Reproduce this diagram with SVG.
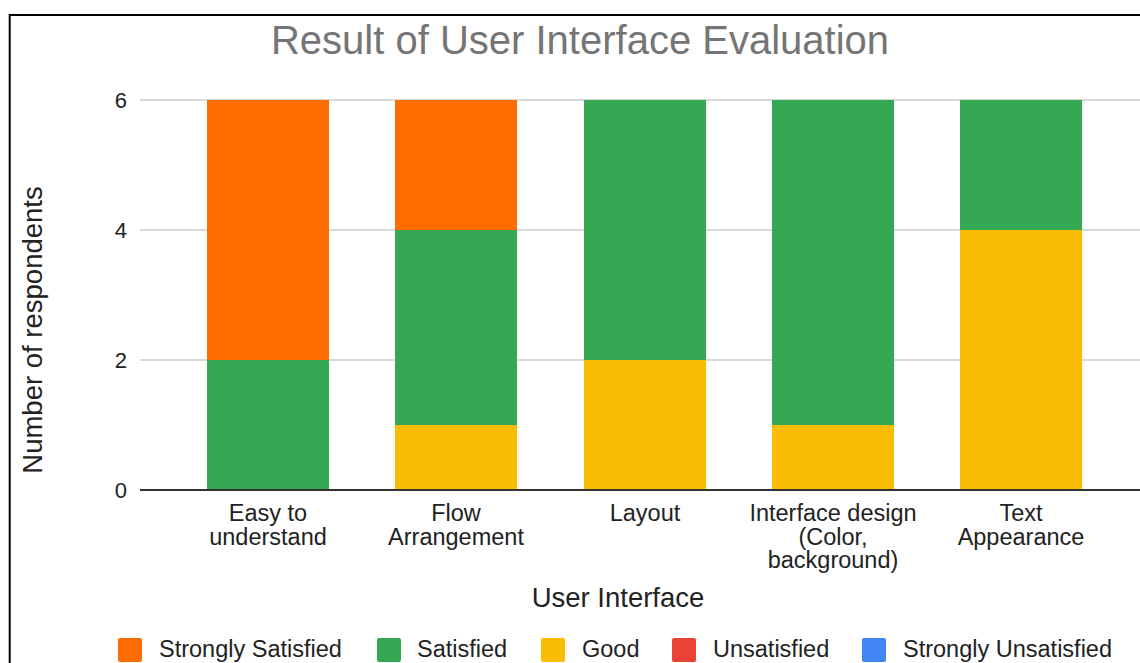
<svg xmlns="http://www.w3.org/2000/svg" width="1140" height="663" viewBox="0 0 1140 663">
<style>
text{font-family:"Liberation Sans",Arial,sans-serif;fill:#222}
.title{font-size:40px;fill:#757575;text-anchor:middle}
.tick{font-size:22px;text-anchor:end}
.xl{font-size:23.5px;text-anchor:middle}
.axt{font-size:27.5px;text-anchor:middle}
.lg{font-size:23.5px}
.grid{stroke:#cccccc;stroke-width:1.5}
.so{fill:#ff6d01}.sa{fill:#34a853}.go{fill:#fbbc04}.un{fill:#ea4335}.su{fill:#4285f4}
</style>
<rect width="1140" height="663" fill="#fff"/>
<path d="M9.7,663 V15 H1140" fill="none" stroke="#000" stroke-width="2"/>
<text class="title" x="580" y="54">Result of User Interface Evaluation</text>
<g id="grid">
<line class="grid" x1="140" y1="100" x2="1140" y2="100"/>
<line class="grid" x1="140" y1="230" x2="1140" y2="230"/>
<line class="grid" x1="140" y1="360" x2="1140" y2="360"/>
</g>
<g id="yticks">
<text class="tick" x="127" y="107.5">6</text>
<text class="tick" x="127" y="237.5">4</text>
<text class="tick" x="127" y="367.5">2</text>
<text class="tick" x="127" y="497.5">0</text>
</g>
<g id="bar-easy">
<rect class="sa" x="207" y="360" width="122" height="130"/>
<rect class="so" x="207" y="100" width="122" height="260"/>
</g>
<g id="bar-flow">
<rect class="go" x="395" y="425" width="122" height="65"/>
<rect class="sa" x="395" y="230" width="122" height="195"/>
<rect class="so" x="395" y="100" width="122" height="130"/>
</g>
<g id="bar-layout">
<rect class="go" x="584" y="360" width="122" height="130"/>
<rect class="sa" x="584" y="100" width="122" height="260"/>
</g>
<g id="bar-interface">
<rect class="go" x="772" y="425" width="122" height="65"/>
<rect class="sa" x="772" y="100" width="122" height="325"/>
</g>
<g id="bar-text">
<rect class="go" x="960" y="230" width="122" height="260"/>
<rect class="sa" x="960" y="100" width="122" height="130"/>
</g>
<line x1="140" y1="490" x2="1140" y2="490" stroke="#333" stroke-width="2"/>
<g id="xlabels">
<text class="xl" x="268" y="521">Easy to</text>
<text class="xl" x="268" y="544.5">understand</text>
<text class="xl" x="456" y="521">Flow</text>
<text class="xl" x="456" y="544.5">Arrangement</text>
<text class="xl" x="645" y="521">Layout</text>
<text class="xl" x="833" y="521">Interface design</text>
<text class="xl" x="833" y="544.5">(Color,</text>
<text class="xl" x="833" y="568">background)</text>
<text class="xl" x="1021" y="521">Text</text>
<text class="xl" x="1021" y="544.5">Appearance</text>
</g>
<text class="axt" x="618" y="607">User Interface</text>
<text class="axt" transform="translate(42,330) rotate(-90)">Number of respondents</text>
<g id="legend">
<rect class="so" x="118" y="638" width="24" height="24" rx="2"/>
<text class="lg" x="159" y="657">Strongly Satisfied</text>
<rect class="sa" x="377" y="638" width="24" height="24" rx="2"/>
<text class="lg" x="417" y="657">Satisfied</text>
<rect class="go" x="541" y="638" width="24" height="24" rx="2"/>
<text class="lg" x="582" y="657">Good</text>
<rect class="un" x="672" y="638" width="24" height="24" rx="2"/>
<text class="lg" x="713" y="657">Unsatisfied</text>
<rect class="su" x="862" y="638" width="24" height="24" rx="2"/>
<text class="lg" x="903" y="657">Strongly Unsatisfied</text>
</g>
</svg>
